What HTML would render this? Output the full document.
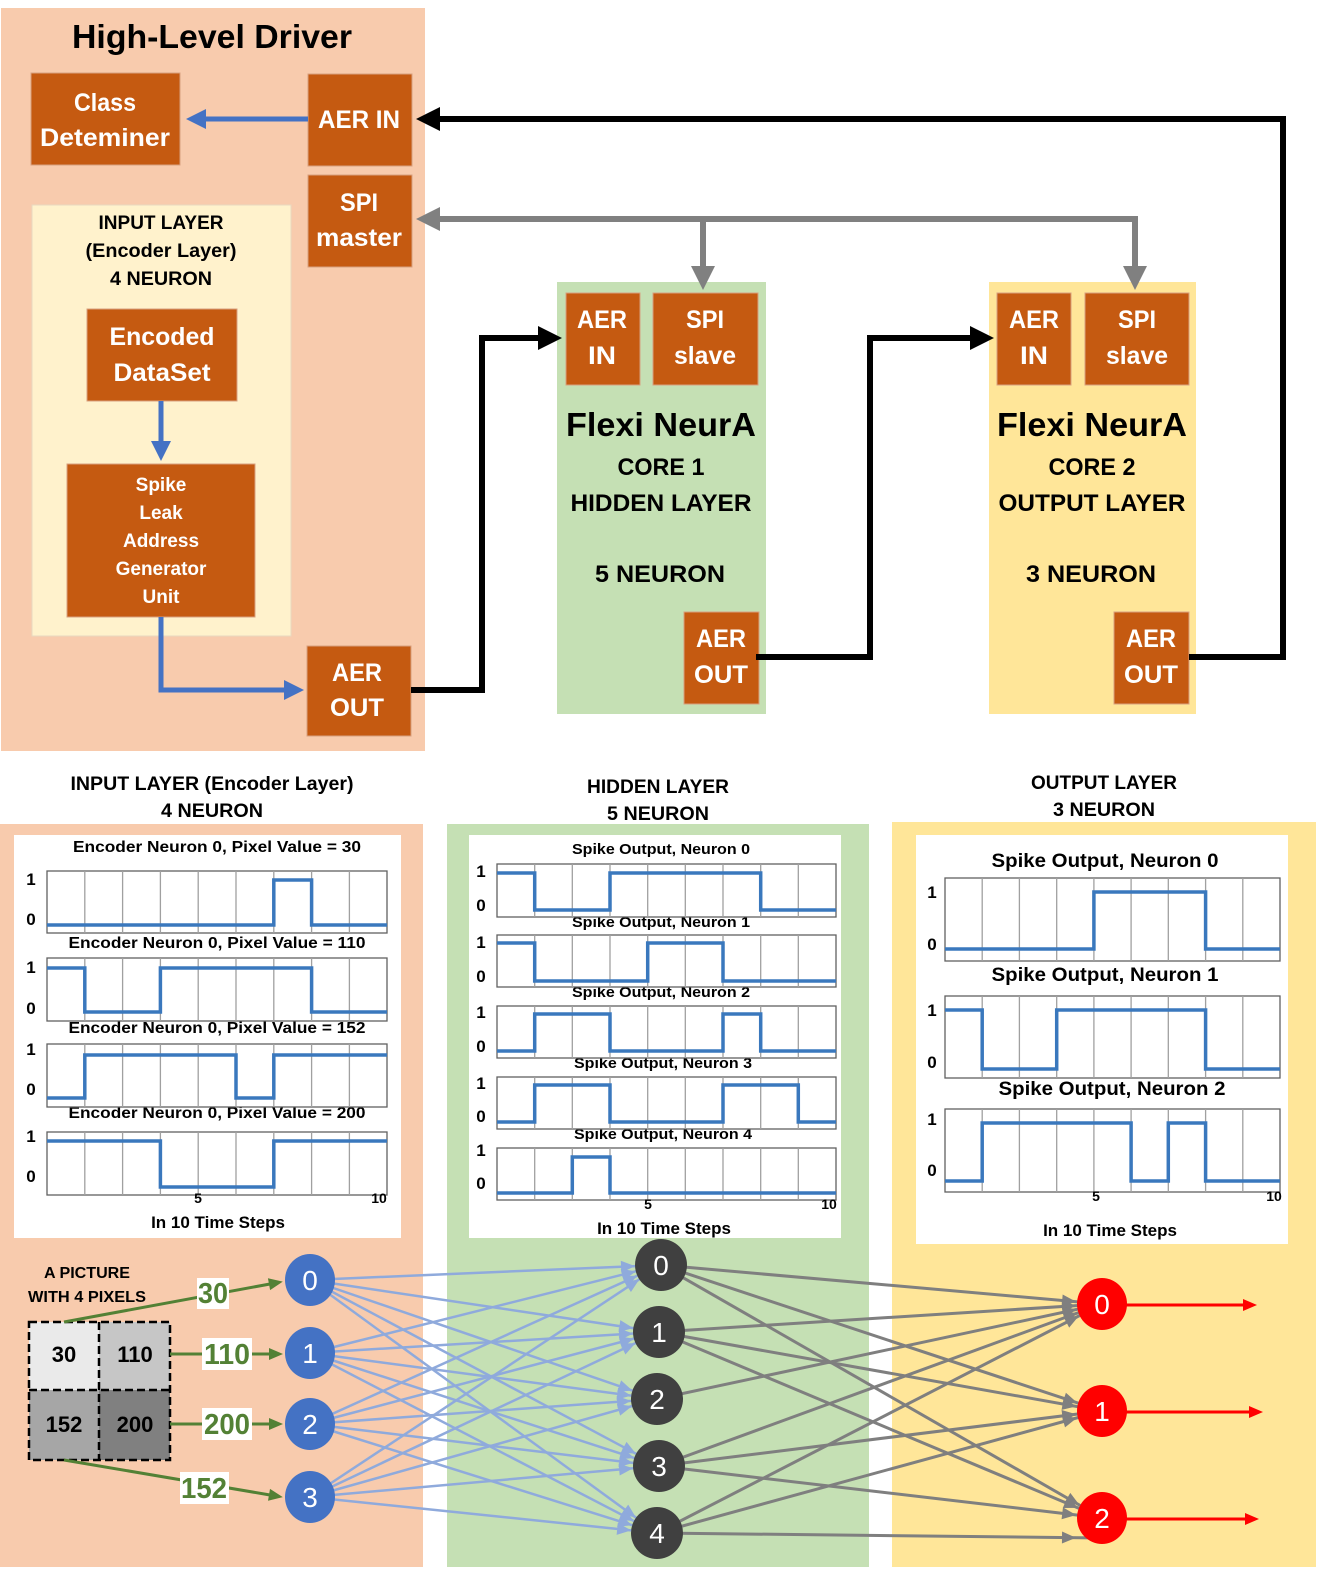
<!DOCTYPE html>
<html><head><meta charset="utf-8"><style>
html,body{margin:0;padding:0;background:#fff;}
svg{display:block;font-family:"Liberation Sans",sans-serif;}
.bx{fill:#c55a11;stroke:#d8a080;stroke-width:1}
.wt{fill:#fff;font-weight:bold;text-anchor:middle}
.bk{fill:#000;font-weight:bold;text-anchor:middle}
.frame{fill:#fff;stroke:#606060;stroke-width:1.3}
.sig{fill:none;stroke:#3a78bd;stroke-width:3.5}
.ax{font-weight:bold;fill:#000;text-anchor:middle}
</style></head><body>
<svg width="1323" height="1576" viewBox="0 0 1323 1576" xmlns="http://www.w3.org/2000/svg">
<defs>
<marker id="ab" markerUnits="userSpaceOnUse" markerWidth="20" markerHeight="20" refX="2" refY="10" orient="auto" overflow="visible"><path d="M0,0 L20,10 L0,20 z" fill="#4472c4"/></marker>
<marker id="ak" markerUnits="userSpaceOnUse" markerWidth="24" markerHeight="24" refX="2" refY="12" orient="auto" overflow="visible"><path d="M0,0 L24,12 L0,24 z" fill="#000"/></marker>
<marker id="ag" markerUnits="userSpaceOnUse" markerWidth="24" markerHeight="24" refX="2" refY="12" orient="auto" overflow="visible"><path d="M0,0 L24,12 L0,24 z" fill="#808080"/></marker>
<marker id="ml" markerUnits="userSpaceOnUse" markerWidth="14" markerHeight="12" refX="40" refY="6" orient="auto" overflow="visible"><path d="M0,0 L14,6 L0,12 z" fill="#8faadc"/></marker>
<marker id="mg" markerUnits="userSpaceOnUse" markerWidth="14" markerHeight="12" refX="40" refY="6" orient="auto" overflow="visible"><path d="M0,0 L14,6 L0,12 z" fill="#7f7f7f"/></marker>
<marker id="mr" markerUnits="userSpaceOnUse" markerWidth="14" markerHeight="12" refX="1" refY="6" orient="auto" overflow="visible"><path d="M0,0 L14,6 L0,12 z" fill="#ff0000"/></marker>
<marker id="mgr" markerUnits="userSpaceOnUse" markerWidth="14" markerHeight="12" refX="1" refY="6" orient="auto" overflow="visible"><path d="M0,0 L14,6 L0,12 z" fill="#538135"/></marker>
</defs>

<!-- ===== TOP ===== -->
<rect x="1" y="8" width="424" height="743" fill="#f8cbad"/>
<text x="212" y="48" class="bk" font-size="33" textLength="280" lengthAdjust="spacingAndGlyphs">High-Level Driver</text>
<rect class="bx" x="31" y="73" width="149" height="92"/>
<text x="105" y="111" class="wt" font-size="25" textLength="62" lengthAdjust="spacingAndGlyphs">Class</text>
<text x="105" y="146" class="wt" font-size="25" textLength="130" lengthAdjust="spacingAndGlyphs">Deteminer</text>
<rect class="bx" x="308" y="74" width="104" height="92"/>
<text x="359" y="128" class="wt" font-size="25" textLength="82" lengthAdjust="spacingAndGlyphs">AER IN</text>
<rect class="bx" x="308" y="175" width="104" height="92"/>
<text x="359" y="211" class="wt" font-size="25" textLength="38" lengthAdjust="spacingAndGlyphs">SPI</text>
<text x="359" y="246" class="wt" font-size="25" textLength="86" lengthAdjust="spacingAndGlyphs">master</text>
<rect x="32" y="205" width="259" height="431" fill="#fff2cc" stroke="#e8d8c0"/>
<text x="161" y="229" class="bk" font-size="19" textLength="125" lengthAdjust="spacingAndGlyphs">INPUT LAYER</text>
<text x="161" y="257" class="bk" font-size="19" textLength="151" lengthAdjust="spacingAndGlyphs">(Encoder Layer)</text>
<text x="161" y="285" class="bk" font-size="19" textLength="102" lengthAdjust="spacingAndGlyphs">4 NEURON</text>
<rect class="bx" x="87" y="309" width="150" height="92"/>
<text x="162" y="345" class="wt" font-size="25" textLength="105" lengthAdjust="spacingAndGlyphs">Encoded</text>
<text x="162" y="381" class="wt" font-size="25" textLength="97" lengthAdjust="spacingAndGlyphs">DataSet</text>
<rect class="bx" x="67" y="464" width="188" height="153"/>
<text x="161" y="491" class="wt" font-size="19">Spike</text>
<text x="161" y="519" class="wt" font-size="19">Leak</text>
<text x="161" y="547" class="wt" font-size="19">Address</text>
<text x="161" y="575" class="wt" font-size="19">Generator</text>
<text x="161" y="603" class="wt" font-size="19">Unit</text>
<rect class="bx" x="307" y="646" width="104" height="90"/>
<text x="357" y="681" class="wt" font-size="25" textLength="50" lengthAdjust="spacingAndGlyphs">AER</text>
<text x="357" y="716" class="wt" font-size="25" textLength="54" lengthAdjust="spacingAndGlyphs">OUT</text>

<!-- green core -->
<rect x="557" y="282" width="209" height="432" fill="#c5e0b4"/>
<rect class="bx" x="566" y="293" width="74" height="92"/>
<text x="602" y="328" class="wt" font-size="25" textLength="50" lengthAdjust="spacingAndGlyphs">AER</text>
<text x="602" y="364" class="wt" font-size="25" textLength="28" lengthAdjust="spacingAndGlyphs">IN</text>
<rect class="bx" x="653" y="293" width="105" height="92"/>
<text x="705" y="328" class="wt" font-size="25" textLength="38" lengthAdjust="spacingAndGlyphs">SPI</text>
<text x="705" y="364" class="wt" font-size="25" textLength="62" lengthAdjust="spacingAndGlyphs">slave</text>
<text x="661" y="436" class="bk" font-size="33" textLength="190" lengthAdjust="spacingAndGlyphs">Flexi NeurA</text>
<text x="661" y="475" class="bk" font-size="24" textLength="87" lengthAdjust="spacingAndGlyphs">CORE 1</text>
<text x="661" y="511" class="bk" font-size="24" textLength="181" lengthAdjust="spacingAndGlyphs">HIDDEN LAYER</text>
<text x="660" y="582" class="bk" font-size="24" textLength="130" lengthAdjust="spacingAndGlyphs">5 NEURON</text>
<rect class="bx" x="684" y="612" width="75" height="92"/>
<text x="721" y="647" class="wt" font-size="25" textLength="50" lengthAdjust="spacingAndGlyphs">AER</text>
<text x="721" y="683" class="wt" font-size="25" textLength="54" lengthAdjust="spacingAndGlyphs">OUT</text>

<!-- yellow core -->
<rect x="989" y="282" width="207" height="432" fill="#ffe699"/>
<rect class="bx" x="997" y="293" width="74" height="92"/>
<text x="1034" y="328" class="wt" font-size="25" textLength="50" lengthAdjust="spacingAndGlyphs">AER</text>
<text x="1034" y="364" class="wt" font-size="25" textLength="28" lengthAdjust="spacingAndGlyphs">IN</text>
<rect class="bx" x="1085" y="293" width="104" height="92"/>
<text x="1137" y="328" class="wt" font-size="25" textLength="38" lengthAdjust="spacingAndGlyphs">SPI</text>
<text x="1137" y="364" class="wt" font-size="25" textLength="62" lengthAdjust="spacingAndGlyphs">slave</text>
<text x="1092" y="436" class="bk" font-size="33" textLength="190" lengthAdjust="spacingAndGlyphs">Flexi NeurA</text>
<text x="1092" y="475" class="bk" font-size="24" textLength="87" lengthAdjust="spacingAndGlyphs">CORE 2</text>
<text x="1092" y="511" class="bk" font-size="24" textLength="187" lengthAdjust="spacingAndGlyphs">OUTPUT LAYER</text>
<text x="1091" y="582" class="bk" font-size="24" textLength="130" lengthAdjust="spacingAndGlyphs">3 NEURON</text>
<rect class="bx" x="1114" y="612" width="75" height="92"/>
<text x="1151" y="647" class="wt" font-size="25" textLength="50" lengthAdjust="spacingAndGlyphs">AER</text>
<text x="1151" y="683" class="wt" font-size="25" textLength="54" lengthAdjust="spacingAndGlyphs">OUT</text>

<!-- top connectors -->
<path d="M308,119 H204" stroke="#4472c4" stroke-width="5" fill="none" marker-end="url(#ab)"/>
<path d="M161,401 V443" stroke="#4472c4" stroke-width="5" fill="none" marker-end="url(#ab)"/>
<path d="M161,617 V690 H286" stroke="#4472c4" stroke-width="5" fill="none" marker-end="url(#ab)"/>
<path d="M411,690 H482 V338 H540" stroke="#000" stroke-width="6" fill="none" marker-end="url(#ak)"/>
<path d="M756,657 H870 V338 H972" stroke="#000" stroke-width="6" fill="none" marker-end="url(#ak)"/>
<path d="M1189,657 H1283 V119 H438" stroke="#000" stroke-width="6" fill="none" marker-end="url(#ak)"/>
<path d="M1135,219 H438" stroke="#808080" stroke-width="6" fill="none" marker-end="url(#ag)"/>
<path d="M703,219 V268" stroke="#808080" stroke-width="6" fill="none" marker-end="url(#ag)"/>
<path d="M1135,216 V268" stroke="#808080" stroke-width="6" fill="none" marker-end="url(#ag)"/>

<!-- ===== BOTTOM ===== -->
<text x="212" y="790" class="bk" font-size="19" textLength="283" lengthAdjust="spacingAndGlyphs">INPUT LAYER (Encoder Layer)</text>
<text x="212" y="817" class="bk" font-size="19" textLength="102" lengthAdjust="spacingAndGlyphs">4 NEURON</text>
<text x="658" y="793" class="bk" font-size="19" textLength="142" lengthAdjust="spacingAndGlyphs">HIDDEN LAYER</text>
<text x="658" y="820" class="bk" font-size="19" textLength="102" lengthAdjust="spacingAndGlyphs">5 NEURON</text>
<text x="1104" y="789" class="bk" font-size="19" textLength="146" lengthAdjust="spacingAndGlyphs">OUTPUT LAYER</text>
<text x="1104" y="816" class="bk" font-size="19" textLength="102" lengthAdjust="spacingAndGlyphs">3 NEURON</text>

<rect x="0" y="824" width="423" height="743" fill="#f8cbad"/>
<rect x="447" y="824" width="422" height="743" fill="#c5e0b4"/>
<rect x="892" y="822" width="424" height="745" fill="#ffe699"/>
<rect x="14" y="835" width="387" height="403" fill="#fff"/>
<rect x="469" y="835" width="372" height="403" fill="#fff"/>
<rect x="916" y="835" width="372" height="409" fill="#fff"/>

<!-- input charts -->
<g>
<text x="217" y="852" class="ax" font-size="16" textLength="288" lengthAdjust="spacingAndGlyphs">Encoder Neuron 0, Pixel Value = 30</text>
<text x="217" y="948" class="ax" font-size="16" textLength="297" lengthAdjust="spacingAndGlyphs">Encoder Neuron 0, Pixel Value = 110</text>
<text x="217" y="1033" class="ax" font-size="16" textLength="297" lengthAdjust="spacingAndGlyphs">Encoder Neuron 0, Pixel Value = 152</text>
<text x="217" y="1118" class="ax" font-size="16" textLength="297" lengthAdjust="spacingAndGlyphs">Encoder Neuron 0, Pixel Value = 200</text>
<rect class="frame" x="47" y="871" width="340" height="62"/>
<rect class="frame" x="47" y="958" width="340" height="63"/>
<rect class="frame" x="47" y="1044" width="340" height="63"/>
<rect class="frame" x="47" y="1132" width="340" height="63"/>
<path d="M84.8,871V933M122.6,871V933M160.4,871V933M198.2,871V933M236,871V933M273.8,871V933M311.6,871V933M349.4,871V933 M84.8,958V1021M122.6,958V1021M160.4,958V1021M198.2,958V1021M236,958V1021M273.8,958V1021M311.6,958V1021M349.4,958V1021 M84.8,1044V1107M122.6,1044V1107M160.4,1044V1107M198.2,1044V1107M236,1044V1107M273.8,1044V1107M311.6,1044V1107M349.4,1044V1107 M84.8,1132V1195M122.6,1132V1195M160.4,1132V1195M198.2,1132V1195M236,1132V1195M273.8,1132V1195M311.6,1132V1195M349.4,1132V1195" stroke="#a0a0a0" stroke-width="1.3"/>
<path class="sig" d="M47,925 H273.8 V880 H311.6 V925 H387"/>
<path class="sig" d="M47,968 H84.8 V1012 H160.4 V968 H311.6 V1012 H387"/>
<path class="sig" d="M47,1098 H84.8 V1055 H236 V1098 H273.8 V1055 H387"/>
<path class="sig" d="M47,1141 H160.4 V1187 H273.8 V1141 H387"/>
<text x="31" y="885" class="ax" font-size="17">1</text><text x="31" y="925" class="ax" font-size="17">0</text>
<text x="31" y="973" class="ax" font-size="17">1</text><text x="31" y="1014" class="ax" font-size="17">0</text>
<text x="31" y="1055" class="ax" font-size="17">1</text><text x="31" y="1095" class="ax" font-size="17">0</text>
<text x="31" y="1142" class="ax" font-size="17">1</text><text x="31" y="1182" class="ax" font-size="17">0</text>
<text x="198" y="1203" class="ax" font-size="14">5</text>
<text x="379" y="1203" class="ax" font-size="14">10</text>
<text x="218" y="1228" class="ax" font-size="17">In 10 Time Steps</text>
</g>

<!-- hidden charts -->
<g>
<text x="661" y="854" class="ax" font-size="15" textLength="178" lengthAdjust="spacingAndGlyphs">Spike Output, Neuron 0</text>
<text x="661" y="927" class="ax" font-size="15" textLength="178" lengthAdjust="spacingAndGlyphs">Spike Output, Neuron 1</text>
<text x="661" y="997" class="ax" font-size="15" textLength="178" lengthAdjust="spacingAndGlyphs">Spike Output, Neuron 2</text>
<text x="663" y="1068" class="ax" font-size="15" textLength="178" lengthAdjust="spacingAndGlyphs">Spike Output, Neuron 3</text>
<text x="663" y="1139" class="ax" font-size="15" textLength="178" lengthAdjust="spacingAndGlyphs">Spike Output, Neuron 4</text>
<rect class="frame" x="497" y="864" width="339" height="53"/>
<rect class="frame" x="497" y="935" width="339" height="52"/>
<rect class="frame" x="497" y="1006" width="339" height="52"/>
<rect class="frame" x="497" y="1077" width="339" height="52"/>
<rect class="frame" x="497" y="1148" width="339" height="52"/>
<path d="M534.7,864V917M572.3,864V917M610,864V917M647.7,864V917M685.3,864V917M723,864V917M760.7,864V917M798.3,864V917 M534.7,935V987M572.3,935V987M610,935V987M647.7,935V987M685.3,935V987M723,935V987M760.7,935V987M798.3,935V987 M534.7,1006V1058M572.3,1006V1058M610,1006V1058M647.7,1006V1058M685.3,1006V1058M723,1006V1058M760.7,1006V1058M798.3,1006V1058 M534.7,1077V1129M572.3,1077V1129M610,1077V1129M647.7,1077V1129M685.3,1077V1129M723,1077V1129M760.7,1077V1129M798.3,1077V1129 M534.7,1148V1200M572.3,1148V1200M610,1148V1200M647.7,1148V1200M685.3,1148V1200M723,1148V1200M760.7,1148V1200M798.3,1148V1200" stroke="#a0a0a0" stroke-width="1.3"/>
<path class="sig" d="M497,873 H534.7 V910 H610 V873 H760.7 V910 H836"/>
<path class="sig" d="M497,943 H534.7 V981 H647.7 V943 H723 V981 H836"/>
<path class="sig" d="M497,1051 H534.7 V1014 H610 V1051 H723 V1014 H760.7 V1051 H836"/>
<path class="sig" d="M497,1122 H534.7 V1085 H610 V1122 H723 V1085 H798.3 V1122 H836"/>
<path class="sig" d="M497,1193 H572.3 V1157 H610 V1193 H836"/>
<text x="481" y="877" class="ax" font-size="17">1</text><text x="481" y="911" class="ax" font-size="17">0</text>
<text x="481" y="948" class="ax" font-size="17">1</text><text x="481" y="982" class="ax" font-size="17">0</text>
<text x="481" y="1018" class="ax" font-size="17">1</text><text x="481" y="1052" class="ax" font-size="17">0</text>
<text x="481" y="1089" class="ax" font-size="17">1</text><text x="481" y="1122" class="ax" font-size="17">0</text>
<text x="481" y="1156" class="ax" font-size="17">1</text><text x="481" y="1189" class="ax" font-size="17">0</text>
<text x="648" y="1209" class="ax" font-size="14">5</text>
<text x="829" y="1209" class="ax" font-size="14">10</text>
<text x="664" y="1234" class="ax" font-size="17">In 10 Time Steps</text>
</g>

<!-- output charts -->
<g>
<text x="1105" y="867" class="ax" font-size="19" textLength="227" lengthAdjust="spacingAndGlyphs">Spike Output, Neuron 0</text>
<text x="1105" y="981" class="ax" font-size="19" textLength="227" lengthAdjust="spacingAndGlyphs">Spike Output, Neuron 1</text>
<text x="1112" y="1095" class="ax" font-size="19" textLength="227" lengthAdjust="spacingAndGlyphs">Spike Output, Neuron 2</text>
<rect class="frame" x="945" y="878" width="335" height="83"/>
<rect class="frame" x="945" y="996" width="335" height="82"/>
<rect class="frame" x="945" y="1109" width="335" height="83"/>
<path d="M982.2,878V961M1019.4,878V961M1056.7,878V961M1093.9,878V961M1131.1,878V961M1168.3,878V961M1205.6,878V961M1242.8,878V961 M982.2,996V1078M1019.4,996V1078M1056.7,996V1078M1093.9,996V1078M1131.1,996V1078M1168.3,996V1078M1205.6,996V1078M1242.8,996V1078 M982.2,1109V1192M1019.4,1109V1192M1056.7,1109V1192M1093.9,1109V1192M1131.1,1109V1192M1168.3,1109V1192M1205.6,1109V1192M1242.8,1109V1192" stroke="#a0a0a0" stroke-width="1.3"/>
<path class="sig" d="M945,949 H1093.9 V892 H1205.6 V949 H1280"/>
<path class="sig" d="M945,1010 H982.2 V1069 H1056.7 V1010 H1205.6 V1069 H1280"/>
<path class="sig" d="M945,1181 H982.2 V1123 H1131.1 V1181 H1168.3 V1123 H1205.6 V1181 H1280"/>
<text x="932" y="898" class="ax" font-size="17">1</text><text x="932" y="950" class="ax" font-size="17">0</text>
<text x="932" y="1016" class="ax" font-size="17">1</text><text x="932" y="1068" class="ax" font-size="17">0</text>
<text x="932" y="1125" class="ax" font-size="17">1</text><text x="932" y="1176" class="ax" font-size="17">0</text>
<text x="1096" y="1201" class="ax" font-size="14">5</text>
<text x="1274" y="1201" class="ax" font-size="14">10</text>
<text x="1110" y="1236" class="ax" font-size="17">In 10 Time Steps</text>
</g>

<!-- picture -->
<text x="87" y="1278" class="bk" font-size="16" textLength="86" lengthAdjust="spacingAndGlyphs">A PICTURE</text>
<text x="87" y="1302" class="bk" font-size="16" textLength="118" lengthAdjust="spacingAndGlyphs">WITH 4 PIXELS</text>
<rect x="29" y="1322" width="70" height="68" fill="#eaeaea"/>
<rect x="99" y="1322" width="71" height="68" fill="#c6c6c6"/>
<rect x="29" y="1390" width="70" height="70" fill="#a6a6a6"/>
<rect x="99" y="1390" width="71" height="70" fill="#808080"/>
<path d="M29,1322 H170 V1460 H29 Z M99,1322 V1460 M29,1390 H170" stroke="#000" stroke-width="2.5" stroke-dasharray="8,4" fill="none"/>
<text x="64" y="1362" class="bk" font-size="22">30</text>
<text x="135" y="1362" class="bk" font-size="22">110</text>
<text x="64" y="1432" class="bk" font-size="22">152</text>
<text x="135" y="1432" class="bk" font-size="22">200</text>

<!-- green arrows -->
<g stroke="#538135" stroke-width="3" fill="none">
<path d="M64,1322 L270,1284" marker-end="url(#mgr)"/>
<path d="M170,1354 L270,1354" marker-end="url(#mgr)"/>
<path d="M170,1424 L270,1424" marker-end="url(#mgr)"/>
<path d="M64,1460 L270,1495" marker-end="url(#mgr)"/>
</g>
<g font-size="29" font-weight="bold" fill="#538135" text-anchor="middle">
<rect x="197" y="1278" width="32" height="31" fill="#fff"/><text x="213" y="1303" textLength="30" lengthAdjust="spacingAndGlyphs">30</text>
<rect x="202" y="1338" width="50" height="32" fill="#fff"/><text x="227" y="1364" textLength="46" lengthAdjust="spacingAndGlyphs">110</text>
<rect x="202" y="1408" width="50" height="32" fill="#fff"/><text x="227" y="1434" textLength="46" lengthAdjust="spacingAndGlyphs">200</text>
<rect x="180" y="1472" width="49" height="32" fill="#fff"/><text x="204" y="1498" textLength="46" lengthAdjust="spacingAndGlyphs">152</text>
</g>

<!-- blue edges -->
<g stroke="#8faadc" stroke-width="2.5" marker-end="url(#ml)">
<line x1="310" y1="1280" x2="661" y2="1265"/><line x1="310" y1="1280" x2="659" y2="1332"/><line x1="310" y1="1280" x2="657" y2="1399"/><line x1="310" y1="1280" x2="659" y2="1466"/><line x1="310" y1="1280" x2="657" y2="1533"/>
<line x1="310" y1="1353" x2="661" y2="1265"/><line x1="310" y1="1353" x2="659" y2="1332"/><line x1="310" y1="1353" x2="657" y2="1399"/><line x1="310" y1="1353" x2="659" y2="1466"/><line x1="310" y1="1353" x2="657" y2="1533"/>
<line x1="310" y1="1424" x2="661" y2="1265"/><line x1="310" y1="1424" x2="659" y2="1332"/><line x1="310" y1="1424" x2="657" y2="1399"/><line x1="310" y1="1424" x2="659" y2="1466"/><line x1="310" y1="1424" x2="657" y2="1533"/>
<line x1="310" y1="1497" x2="661" y2="1265"/><line x1="310" y1="1497" x2="659" y2="1332"/><line x1="310" y1="1497" x2="657" y2="1399"/><line x1="310" y1="1497" x2="659" y2="1466"/><line x1="310" y1="1497" x2="657" y2="1533"/>
</g>
<!-- gray edges -->
<g stroke="#7f7f7f" stroke-width="3" marker-end="url(#mg)">
<line x1="661" y1="1265" x2="1102" y2="1304"/><line x1="661" y1="1265" x2="1102" y2="1411"/><line x1="661" y1="1265" x2="1102" y2="1518"/>
<line x1="659" y1="1332" x2="1102" y2="1304"/><line x1="659" y1="1332" x2="1102" y2="1411"/><line x1="659" y1="1332" x2="1102" y2="1518"/>
<line x1="657" y1="1399" x2="1102" y2="1304"/>
<line x1="659" y1="1466" x2="1102" y2="1304"/><line x1="659" y1="1466" x2="1102" y2="1411"/><line x1="659" y1="1466" x2="1102" y2="1518"/>
<line x1="657" y1="1533" x2="1102" y2="1304"/><line x1="657" y1="1533" x2="1102" y2="1411"/><line x1="657" y1="1533" x2="1102" y2="1538"/>
</g>
<!-- red outputs -->
<g stroke="#ff0000" stroke-width="3" marker-end="url(#mr)">
<line x1="1125" y1="1305" x2="1244" y2="1305"/>
<line x1="1125" y1="1412" x2="1250" y2="1412"/>
<line x1="1125" y1="1519" x2="1246" y2="1519"/>
</g>

<!-- nodes -->
<g font-size="28" fill="#fff" text-anchor="middle">
<ellipse cx="310" cy="1280" rx="25" ry="26" fill="#4472c4"/><text x="310" y="1290" fill="#fff">0</text>
<ellipse cx="310" cy="1353" rx="25" ry="26" fill="#4472c4"/><text x="310" y="1363" fill="#fff">1</text>
<ellipse cx="310" cy="1424" rx="25" ry="26" fill="#4472c4"/><text x="310" y="1434" fill="#fff">2</text>
<ellipse cx="310" cy="1497" rx="25" ry="26" fill="#4472c4"/><text x="310" y="1507" fill="#fff">3</text>
<ellipse cx="661" cy="1265" rx="26" ry="26" fill="#404040"/><text x="661" y="1275" fill="#fff">0</text>
<ellipse cx="659" cy="1332" rx="26" ry="26" fill="#404040"/><text x="659" y="1342" fill="#fff">1</text>
<ellipse cx="657" cy="1399" rx="26" ry="26" fill="#404040"/><text x="657" y="1409" fill="#fff">2</text>
<ellipse cx="659" cy="1466" rx="26" ry="26" fill="#404040"/><text x="659" y="1476" fill="#fff">3</text>
<ellipse cx="657" cy="1533" rx="26" ry="26" fill="#404040"/><text x="657" y="1543" fill="#fff">4</text>
<ellipse cx="1102" cy="1304" rx="25" ry="26" fill="#ff0000"/><text x="1102" y="1314" fill="#fff">0</text>
<ellipse cx="1102" cy="1411" rx="25" ry="26" fill="#ff0000"/><text x="1102" y="1421" fill="#fff">1</text>
<ellipse cx="1102" cy="1518" rx="25" ry="26" fill="#ff0000"/><text x="1102" y="1528" fill="#fff">2</text>
</g>
</svg>
</body></html>
